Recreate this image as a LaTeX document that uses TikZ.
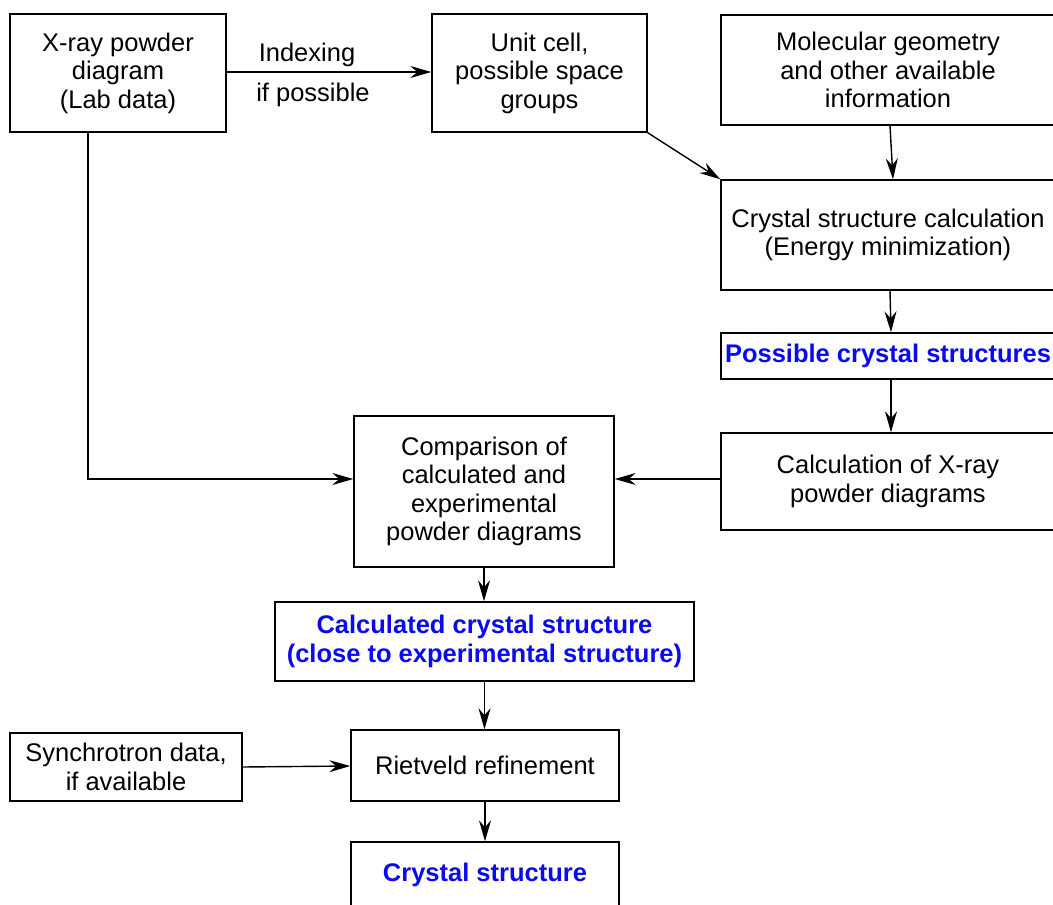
\documentclass[tikz,border=0pt]{standalone}
\usepackage{fontspec}
\setmainfont{Liberation Sans}
\usetikzlibrary{arrows.meta,calc}
\definecolor{resblue}{RGB}{10,10,240}
\begin{document}
\begin{tikzpicture}[x=1pt,y=-1pt,
  box/.style={draw,line width=1.4pt,inner sep=0pt,align=center,
    font=\fontsize{25.5}{28.5}\selectfont},
  result/.style={box,text=resblue,font=\fontsize{25.5}{29.5}\selectfont\bfseries},
  arr/.style={line width=1.4pt,-{Stealth[length=21pt,width=12pt,inset=7pt]}},
  lbl/.style={font=\fontsize{25.5}{28.5}\selectfont,inner sep=0pt}]
\clip (0,0) rectangle (1053,905);
\fill[white] (0,0) rectangle (1053,905);
% input and derived data boxes
\node[box,minimum width=216pt,minimum height=118pt] (xrd) at (118,73)
  {X-ray powder\\diagram\\(Lab data)};
\node[box,minimum width=215pt,minimum height=118pt] (cell) at (539.5,73)
  {Unit cell,\\possible space\\groups};
\node[box,minimum width=334pt,minimum height=110pt] (mol) at (888,70)
  {Molecular geometry\\and other available\\information};
\node[box,minimum width=334pt,minimum height=110pt] (calc) at (888,235)
  {Crystal structure calculation\\(Energy minimization)};
\node[result,minimum width=334pt,minimum height=46pt] (poss) at (888,356)
  {Possible crystal structures};
\node[box,minimum width=334pt,minimum height=97pt] (xcalc) at (888,481.5)
  {Calculation of X-ray\\powder diagrams};
\node[box,minimum width=260pt,minimum height=151pt] (comp) at (484,491.5)
  {Comparison of\\calculated and\\experimental\\powder diagrams};
\node[result,minimum width=419pt,minimum height=79pt] (calcst) at (484.5,641.5)
  {Calculated crystal structure\\(close to experimental structure)};
\node[box,minimum width=232pt,minimum height=68pt] (sync) at (126,767)
  {Synchrotron data,\\if available};
\node[box,minimum width=268pt,minimum height=71pt] (riet) at (485,765.5)
  {Rietveld refinement};
\node[result,minimum width=268pt,minimum height=66pt] (final) at (485,875)
  {Crystal structure};
% connectors
\draw[arr] (xrd.east |- 0,72) -- (cell.west |- 0,72);
\node[lbl] (idx) at (307,55) {Indexing};
\node[lbl] (ifp) at (313,95) {if possible};
\draw[arr] (cell.south east) -- (calc.north west);
\draw[arr] ([xshift=2pt]mol.south) -- ([xshift=5pt]calc.north);
\draw[arr] ([xshift=2pt]calc.south) -- ([xshift=3pt]poss.north);
\draw[arr] ([xshift=3pt]poss.south) -- ([xshift=3pt]xcalc.north);
\draw[arr] ([yshift=2.5pt]xcalc.west) coordinate (fg) -- (fg -| comp.east);
\draw[arr] ([xshift=-30pt]xrd.south) |- (comp.west |- fg);
\draw[arr] (comp.south) -- (comp.south |- calcst.north);
\draw[arr] (calcst.south) -- (calcst.south |- riet.north);
\draw[arr] (sync.east) -- (riet.west |- 0,766);
\draw[arr] (riet.south) -- (final.north);
\end{tikzpicture}
\end{document}
